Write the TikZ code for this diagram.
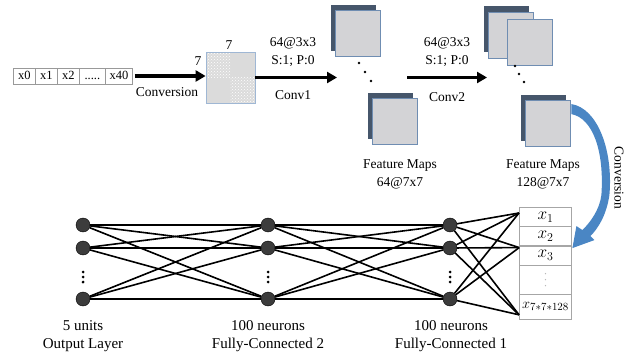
\documentclass[tikz,border=0pt]{standalone}
\usepackage{fontspec}
\setmainfont{Liberation Serif}
\usepackage{tikz}
\usetikzlibrary{matrix,arrows.meta,patterns}

\definecolor{mapfront}{HTML}{D3D3D6}
\definecolor{mapback}{HTML}{46566B}
\definecolor{mapedge}{HTML}{6F8DB2}
\definecolor{gridedge}{HTML}{9FB7D4}
\definecolor{convblue}{HTML}{4A86C4}
\definecolor{unitfill}{HTML}{3C3C3C}

\tikzset{
  bigarrow/.style={line width=3.5pt, -{Triangle[length=10pt,width=11pt]}},
  unit/.style={circle, draw=black, fill=unitfill, minimum size=14pt, inner sep=0pt},
  link/.style={line width=1.6pt},
  fmap/.style={draw=mapedge, fill=mapfront, line width=0.8pt, minimum width=45pt, minimum height=46pt, inner sep=0pt},
  fback/.style={fill=mapback, minimum width=45pt, minimum height=46pt, inner sep=0pt},
  lbl/.style={font=\fontsize{13.5}{18}\selectfont, align=center},
  bottomlbl/.style={font=\fontsize{15}{18}\selectfont, align=center},
}

\begin{document}
\begin{tikzpicture}[x=1pt, y=-1pt]
 \useasboundingbox (0,0) rectangle (634,358);

 % input row
 \matrix (inp) [matrix of nodes, anchor=west, inner sep=0pt, column sep=-\pgflinewidth,
   nodes={draw=gray!80, minimum height=16pt, minimum width=22pt, inner sep=1pt, text height=8.5pt, text depth=2pt, font=\fontsize{12.5}{14}\selectfont},
   column 4/.style={nodes={minimum width=26pt}}, column 5/.style={nodes={minimum width=27pt}}] at (13,76)
  {
    x0 & x1 & x2 & ..... & x40 \\
  };

 % 7x7 input
 \node (grid) [draw=gridedge, line width=.8pt, minimum width=49pt, minimum height=51pt,
   path picture={
     \fill[gray!28] (path picture bounding box.north west) rectangle (path picture bounding box.south east);
     \fill[pattern=crosshatch dots, pattern color=white] (path picture bounding box.north west) rectangle (path picture bounding box.center);
     \fill[pattern=crosshatch dots, pattern color=white] (path picture bounding box.center) rectangle (path picture bounding box.south east);
   }] at (230.5,77.5) {};
 \node (gridw) [lbl] at (229,45) {7};
 \node (gridh) [lbl] at (198,61) {7};

 % feature maps
 \node (m1topb) [fback] at (353.5,28.5) {};
 \node (m1top) [fmap] at (357.5,33.5) {};
 \node (m1botb) [fback] at (390.5,116.5) {};
 \node (m1bot) [fmap] at (394.5,121.5) {};
 \node (m2topb) [fback] at (506.5,29) {};
 \node (m2mid) [fmap] at (510.5,35) {};
 \node (m2top) [fmap] at (530,42.5) {};
 \node (m2botb) [fback] at (543.5,118) {};
 \node (m2bot) [fmap] at (547.5,123.5) {};
 \foreach \x/\y in {359/63,365/72,371/81,515/66,519/74,524/82}
  \fill (\x,\y) circle (1.4pt);

 \node (fm1) [lbl] at (400,174) {Feature Maps\\64@7x7};
 \node (fm2) [lbl] at (543,174) {Feature Maps\\128@7x7};

 % arrows
 \coordinate (c1tip) at (337,77.5);
 \coordinate (c2a) at (407,77.5);
 \coordinate (c2tip) at (487,77.5);
 \draw[bigarrow, shorten <=2pt] (inp.east) -- (inp.east -| grid.west);
 \draw[bigarrow] (grid.east) -- (c1tip);
 \draw[bigarrow] (c2a) -- (c2tip);
 \node (conv0) [lbl] at (167,92) {Conversion};
 \node (k1) [lbl] at (293,52) {64@3x3\\S:1; P:0};
 \node (conv1) [lbl] at (293,95) {Conv1};
 \node (k2) [lbl] at (447,52.5) {64@3x3\\S:1; P:0};
 \node (conv2) [lbl] at (447,97) {Conv2};

 % flattened vector
 \matrix (vec) [matrix of math nodes, anchor=north west, inner sep=0pt, row sep=-\pgflinewidth,
   nodes={draw=gray!70, line width=.6pt, minimum width=52pt, minimum height=19pt, inner sep=1pt, font=\fontsize{17}{19}\selectfont},
   row 4/.style={nodes={minimum height=29pt}}, row 5/.style={nodes={minimum height=25pt, font=\fontsize{15}{17}\selectfont}}] at (519,207)
  {
    x_1 \\
    x_2 \\
    x_3 \\
    \phantom{x} \\
    x_{7*7*128} \\
  };
 \foreach \d in {-6,0,6}
  \fill[gray!55] ([yshift=\d pt]vec-4-1.center) circle (.7pt);
 \coordinate (p1) at ([yshift=-6pt]vec.north west);
 \coordinate (p2) at ([yshift=-2pt]vec-3-1.north west);
 \coordinate (p3) at ([yshift=5pt]vec.south west);

 \begin{scope}[shift={(m2bot.north east)}]
  \fill[convblue] (1,4) .. controls (27,8) and (43,50) .. (39,95)
   .. controls (36,115) and (28,128) .. (20,136)
   -- (24,140) -- (2,148) -- (6,126) -- (12,130)
   .. controls (20,122) and (29,110) .. (31,95)
   .. controls (34,50) and (22,18) .. (1,14) -- cycle;
 \end{scope}
 \node (conv3) [lbl, rotate=-90] at (619,178) {Conversion};

 % dense layers
 \foreach \n/\y in {1/225,2/248,3/299} {
  \node (o\n) [unit] at (83,\y) {};
  \node (fb\n) [unit] at (268,\y) {};
  \node (fa\n) [unit] at (450,\y) {};
 }
 \foreach \i in {1,2,3}
  \foreach \j in {1,2,3} {
   \draw[link] (o\i) -- (fb\j);
   \draw[link] (fb\i) -- (fa\j);
   \draw[link] (fa\i) -- (p\j);
  }
 \foreach \x in {83,268,450}
  \foreach \y in {272,277,282}
   \fill (\x,\y) circle (1.5pt);

 \node (l1) [bottomlbl] at (83,336) {5 units\\Output Layer};
 \node (l2) [bottomlbl] at (268,336) {100 neurons\\Fully-Connected 2};
 \node (l3) [bottomlbl] at (451,336) {100 neurons\\Fully-Connected 1};
\end{tikzpicture}
\end{document}
